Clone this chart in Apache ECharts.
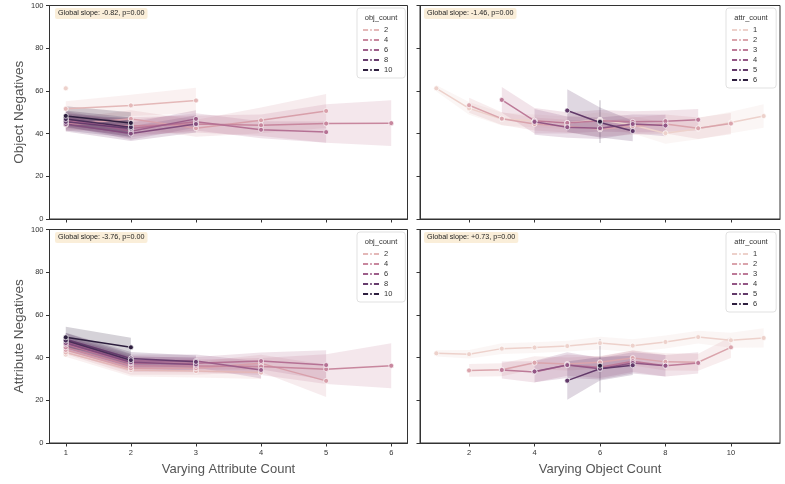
<!DOCTYPE html>
<html><head><meta charset="utf-8">
<script src="https://cdn.jsdelivr.net/npm/echarts@6/dist/echarts.min.js"></script>
<style>html,body{margin:0;padding:0;background:#fff}#c{width:785px;height:484px}</style>
</head><body><div id="c"></div>
<script>
// ---------- data ----------
const yTicks = [0, 20, 40, 60, 80, 100];
const attrCountTicks = [1, 2, 3, 4, 5, 6];
const objCountTicks = [2, 4, 6, 8, 10];
const objLevels = [1, 2, 3, 4, 5, 6, 7, 8, 9, 10];
const attrLevels = [1, 2, 3, 4, 5, 6];
const objLegend = [2, 4, 6, 8, 10];
const attrLegend = [1, 2, 3, 4, 5, 6];
const slopeTexts = ['Global slope: -0.82, p=0.00', 'Global slope: -1.46, p=0.00',
                    'Global slope: -3.76, p=0.00', 'Global slope: +0.73, p=0.00'];

// top-left: Object Negatives vs attribute count, hue = obj_count
const tlStart = [1, 1, 1, 1, 1, 1, 1, 1, 1, 1];
const tlMean = [
  [61.2],
  [51.6, 53.2, 55.5],
  [44.1, 46.9, 42.5, 46.2, 50.6],
  [45.0, 43.6, 44.5, 43.9, 44.7, 44.9],
  [46.2, 42.4, 45.5, 41.8, 40.7],
  [47.0, 41.1, 46.9],
  [44.5, 40.0, 44.5],
  [45.5, 42.4],
  [46.8, 43.0],
  [48.3, 45.0]
];
const tlErr = [
  [0],
  [3.5, 5, 6],
  [3, 4, 4, 6, 8],
  [3, 4, 4, 5, 9, 10.7],
  [3, 4, 4, 4, 5],
  [3.5, 4, 4],
  [3.5, 3.5, 4],
  [4, 4.5],
  [4, 4.5],
  [4.5, 5]
];

// top-right: Object Negatives vs object count, hue = attr_count
const trStart = [1, 2, 3, 4, 5, 6];
const trMean = [
  [61.2, 51.8, 46.8, 46.0, 45.0, 46.5, 44.0, 40.2, 42.3, 45.2, 48.2],
  [53.3, 47.0, 44.5, 43.5, 42.0, 43.5, 44.5, 42.5, 44.7],
  [55.8, 46.0, 45.0, 46.0, 45.5, 45.8, 46.5],
  [45.5, 43.0, 42.5, 44.5, 43.8],
  [50.8, 45.2, 41.2],
  [45.6]
];
const trErr = [
  [1.5, 3, 3, 3, 3, 3.5, 4, 5, 5, 5, 5.5],
  [3.5, 3, 3, 3, 3.5, 4, 4.5, 5, 5],
  [6, 6, 5, 5, 5, 5, 5],
  [6, 5, 5, 4.5, 5],
  [10, 7, 4.8],
  [10]
];

// bottom-left: Attribute Negatives vs attribute count, hue = obj_count
const blStart = [1, 1, 1, 1, 1, 1, 1, 1, 1, 1];
const blMean = [
  [41.4],
  [42.4, 34.2, 33.7, 33.0],
  [43.6, 35.0, 35.0, 37.3, 29.1],
  [44.8, 36.2, 36.1, 35.8, 34.6, 36.2],
  [46.1, 37.3, 37.3, 38.4, 36.5],
  [47.4, 38.4, 38.4, 34.2],
  [46.8, 37.8, 36.8],
  [48.6, 39.6, 38.0],
  [48.0, 38.8],
  [49.5, 44.8]
];
const blErr = [
  [0],
  [2, 3, 3, 3],
  [2, 3, 3, 4, 7.5],
  [2.5, 3, 3, 4, 7, 10.5],
  [2.5, 3, 3, 4, 7],
  [3, 3, 3, 4],
  [3, 3, 3],
  [3, 3, 3],
  [3.5, 3],
  [5, 4.5]
];

// bottom-right: Attribute Negatives vs object count, hue = attr_count
const brStart = [1, 2, 3, 4, 5, 6];
const brMean = [
  [42.0, 41.6, 44.2, 44.7, 45.4, 46.8, 45.6, 47.3, 49.6, 48.1, 49.2],
  [34.0, 34.3, 37.6, 37.0, 37.8, 39.8, 38.0, 37.8, 44.8],
  [34.2, 33.3, 36.5, 35.5, 38.3, 36.2, 37.5],
  [33.5, 36.5, 34.8, 37.5, 36.2],
  [29.2, 34.8, 36.4],
  [36.2]
];
const brErr = [
  [1.5, 2, 2.5, 2.5, 2.5, 3, 3, 3, 3, 3.5, 4.5],
  [3, 3, 3, 3, 3, 3.5, 4, 4, 5],
  [4, 5, 5, 5, 5, 5, 5],
  [5, 6, 5, 5, 5],
  [9, 5.5, 4.5],
  [12.5]
];

// ---------- styling helpers ----------
const FONT = "'Liberation Sans', Arial, sans-serif";
function cubehelix(t) { // seaborn default cubehelix cmap, 0 = light, 1 = dark
  const x = 0.85 - 0.7 * t;
  const a = 0.8 * x * (1 - x) / 2;
  const phi = 2 * Math.PI * (0 / 3 + 0.4 * x);
  const c = Math.cos(phi), s = Math.sin(phi);
  const cl = v => Math.max(0, Math.min(255, Math.round(v * 255)));
  return [cl(x + a * (-0.14861 * c + 1.78277 * s)),
          cl(x + a * (-0.29227 * c - 0.90649 * s)),
          cl(x + a * (1.97294 * c))];
}
const rgba = (c, a) => `rgba(${c[0]},${c[1]},${c[2]},${a})`;

const series = [];
function addPanel(gi, levels, starts, means, errs, prefix) {
  const lo = levels[0], hi = levels[levels.length - 1];
  const lines = [];
  levels.forEach((lv, k) => {
    const col = cubehelix((lv - lo) / (hi - lo));
    const pts = means[k].map((m, i) => [starts[k] + i, m]);
    const band = means[k].map((m, i) => [starts[k] + i, m - errs[k][i], m + errs[k][i]]);
    series.push({
      type: 'custom', xAxisIndex: gi, yAxisIndex: gi, z: 1, silent: true,
      data: band, encode: { x: 0, y: [1, 2] },
      renderItem: (params, api) => {
        if (params.dataIndex !== 0) return null;
        if (band.length === 1) {
          if (band[0][2] - band[0][1] <= 0) return null;
          const p1 = api.coord([band[0][0], band[0][1]]);
          const p2 = api.coord([band[0][0], band[0][2]]);
          return { type: 'line', shape: { x1: p1[0], y1: p1[1], x2: p2[0], y2: p2[1] },
                   style: { stroke: rgba(col, 0.3), lineWidth: 1 } };
        }
        const up = band.map(p => api.coord([p[0], p[2]]));
        const dn = band.map(p => api.coord([p[0], p[1]])).reverse();
        return { type: 'polygon', shape: { points: up.concat(dn) },
                 style: { fill: rgba(col, 0.2), stroke: 'none' } };
      }
    });
    lines.push({
      type: 'line', name: prefix + lv, xAxisIndex: gi, yAxisIndex: gi, z: 3,
      data: pts, symbol: 'circle', symbolSize: 5, showSymbol: true,
      lineStyle: { width: 1.5, color: rgba(col, 1) },
      itemStyle: { color: rgba(col, 1), borderColor: '#fff', borderWidth: 0.7 },
      emphasis: { disabled: true }
    });
  });
  lines.forEach(s => series.push(s));
}
addPanel(0, objLevels, tlStart, tlMean, tlErr, 'obj_count=');
addPanel(1, attrLevels, trStart, trMean, trErr, 'attr_count=');
addPanel(2, objLevels, blStart, blMean, blErr, 'obj_count=');
addPanel(3, attrLevels, brStart, brMean, brErr, 'attr_count=');

const grids = [
  { left: 49.5, top: 5.5, width: 358, height: 213.5 },
  { left: 420, top: 5.5, width: 360, height: 213.5 },
  { left: 49.5, top: 229.5, width: 358, height: 213.5 },
  { left: 420, top: 229.5, width: 360, height: 213.5 }
].map(g => Object.assign(g, { show: true, borderColor: '#333', borderWidth: 1, containLabel: false }));

const axisLine = { show: true, onZero: false, lineStyle: { color: '#333', width: 1 } };
const xAxes = [0, 1, 2, 3].map(gi => {
  const isLeft = gi % 2 === 0, isBottom = gi >= 2;
  const ticks = isLeft ? attrCountTicks : objCountTicks;
  return {
    type: 'value', gridIndex: gi,
    min: isLeft ? 0.75 : 0.5, max: isLeft ? 6.25 : 11.5,
    axisLine, splitLine: { show: false },
    axisTick: { show: true, length: 3.5, customValues: ticks, lineStyle: { color: '#333', width: 1 } },
    axisLabel: { show: isBottom, customValues: ticks, fontSize: 7.5, color: '#333', margin: 6, fontFamily: FONT },
    name: isBottom ? (isLeft ? 'Varying Attribute Count' : 'Varying Object Count') : '',
    nameLocation: 'middle', nameGap: 20,
    nameTextStyle: { fontSize: 13, color: '#555', fontFamily: FONT }
  };
});
const yAxes = [0, 1, 2, 3].map(gi => {
  const isLeft = gi % 2 === 0, isBottom = gi >= 2;
  return {
    type: 'value', gridIndex: gi, min: yTicks[0], max: yTicks[yTicks.length - 1], interval: 20,
    axisLine, splitLine: { show: false },
    axisTick: { show: true, length: 3.5, lineStyle: { color: '#333', width: 1 } },
    axisLabel: { show: isLeft, fontSize: 7.5, color: '#333', margin: 6, fontFamily: FONT },
    name: isLeft ? (isBottom ? 'Attribute Negatives' : 'Object Negatives') : '',
    nameLocation: 'middle', nameGap: 23,
    nameTextStyle: { fontSize: 13.5, color: '#555', fontFamily: FONT }
  };
});

const titlePos = [[55, 8], [424, 8], [55, 232], [424, 232]];
const titles = slopeTexts.map((t, i) => ({
  text: t, left: titlePos[i][0], top: titlePos[i][1],
  padding: [2, 3, 2, 3], backgroundColor: 'rgba(245,222,179,0.5)', borderRadius: 2,
  textStyle: { fontSize: 7.2, fontWeight: 'normal', color: '#222', fontFamily: FONT }
}));

const legendBox = [
  { left: 357, top: 8, pad: [17, 13, 3, 5], names: objLegend.map(v => 'obj_count=' + v), title: 'obj_count', tx: 381 },
  { left: 726, top: 8, pad: [17, 19, 3, 5], names: attrLegend.map(v => 'attr_count=' + v), title: 'attr_count', tx: 751 },
  { left: 357, top: 232, pad: [17, 13, 3, 5], names: objLegend.map(v => 'obj_count=' + v), title: 'obj_count', tx: 381 },
  { left: 726, top: 232, pad: [17, 19, 3, 5], names: attrLegend.map(v => 'attr_count=' + v), title: 'attr_count', tx: 751 }
];
const legends = legendBox.map(b => ({
  left: b.left, top: b.top, orient: 'vertical', padding: b.pad,
  data: b.names, selectedMode: false,
  itemWidth: 16, itemHeight: 5, itemGap: 0,
  borderColor: '#d9d9d9', borderWidth: 0.8, borderRadius: 3, backgroundColor: 'rgba(255,255,255,0.85)',
  formatter: n => n.split('=')[1],
  textStyle: { fontSize: 7.5, color: '#333', lineHeight: 10, fontFamily: FONT }
}));
const graphic = legendBox.map(b => ({
  type: 'text', x: b.tx, y: b.top + 10, z: 100,
  style: { text: b.title, fill: '#333', font: `7.5px ${FONT}`, align: 'center', verticalAlign: 'middle' }
}));

const chart = echarts.init(document.getElementById('c'), null, { renderer: 'canvas' });
chart.setOption({
  animation: false,
  backgroundColor: '#fff',
  textStyle: { fontFamily: FONT },
  title: titles,
  grid: grids,
  xAxis: xAxes,
  yAxis: yAxes,
  legend: legends,
  graphic: graphic,
  series: series
});
</script>
</body></html>
